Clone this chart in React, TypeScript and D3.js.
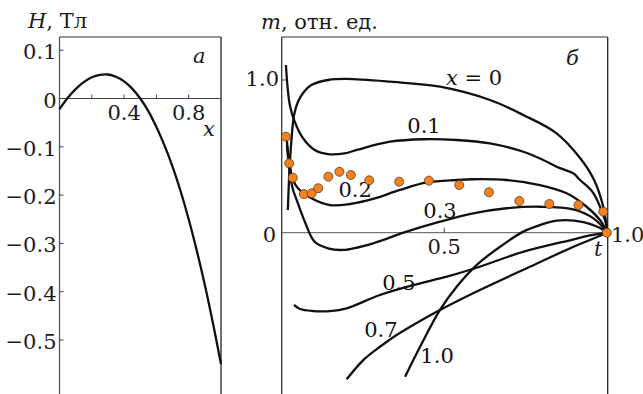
import React from "react";
import * as d3 from "d3";

// panel a: H(x)
const hX = [0, 0.05, 0.1, 0.15, 0.2, 0.25, 0.3, 0.35, 0.4, 0.45, 0.5, 0.55, 0.6, 0.65, 0.7, 0.75, 0.8, 0.85, 0.9, 0.95, 1.0];
const hVal = [-0.022, 0.001, 0.0195, 0.034, 0.044, 0.049, 0.0497, 0.045, 0.0355, 0.0205, 0.0, -0.026, -0.059, -0.097, -0.141, -0.192, -0.25, -0.315, -0.386, -0.465, -0.55];
const hYTicks = [0.1, 0, -0.1, -0.2, -0.3, -0.4, -0.5];
const hXTicks = [0.2, 0.4, 0.6, 0.8];
const hXLabels = [0.4, 0.8];

// panel б: m(t) for several x
const curveNames = ["x = 0", "0.1", "0.2", "0.3", "0.5", "0.7", "1.0"];
const curveT = [
  [0.021, 0.026, 0.032, 0.04, 0.052, 0.07, 0.093, 0.144, 0.201, 0.334, 0.487, 0.64, 0.742, 0.844, 0.916, 0.959, 0.987, 1.0],
  [0.015, 0.027, 0.042, 0.067, 0.103, 0.144, 0.195, 0.232, 0.334, 0.436, 0.538, 0.64, 0.742, 0.803, 0.844, 0.895, 0.916, 0.957, 0.998, 1.0],
  [0.017, 0.027, 0.037, 0.052, 0.092, 0.15, 0.211, 0.282, 0.364, 0.447, 0.538, 0.589, 0.691, 0.793, 0.875, 0.936, 0.977, 1.0],
  [0.018, 0.028, 0.037, 0.046, 0.073, 0.103, 0.144, 0.19, 0.283, 0.375, 0.487, 0.589, 0.691, 0.793, 0.895, 0.957, 1.0],
  [0.04, 0.058, 0.099, 0.15, 0.201, 0.303, 0.405, 0.508, 0.594, 0.741, 0.894, 0.946, 1.0],
  [0.201, 0.252, 0.303, 0.354, 0.405, 0.487, 0.609, 0.741, 0.894, 0.946, 1.0],
  [0.38, 0.426, 0.487, 0.538, 0.599, 0.671, 0.742, 0.793, 0.844, 0.926, 0.977, 1.0],
];
const curveM = [
  [0.149, 0.411, 0.607, 0.771, 0.858, 0.921, 0.967, 1.0, 1.007, 0.989, 0.956, 0.869, 0.771, 0.651, 0.489, 0.345, 0.17, 0],
  [1.098, 0.836, 0.727, 0.62, 0.542, 0.515, 0.52, 0.542, 0.596, 0.612, 0.607, 0.585, 0.53, 0.476, 0.432, 0.389, 0.345, 0.258, 0.039, 0],
  [0.62, 0.443, 0.345, 0.291, 0.227, 0.181, 0.188, 0.221, 0.28, 0.329, 0.345, 0.35, 0.345, 0.312, 0.258, 0.17, 0.083, 0],
  [0.574, 0.378, 0.28, 0.227, 0.072, -0.059, -0.102, -0.113, -0.069, 0, 0.072, 0.127, 0.16, 0.17, 0.153, 0.094, 0],
  [-0.473, -0.5, -0.513, -0.513, -0.495, -0.408, -0.343, -0.288, -0.233, -0.126, -0.045, -0.018, 0],
  [-0.96, -0.834, -0.747, -0.67, -0.604, -0.506, -0.375, -0.244, -0.094, -0.048, 0],
  [-0.943, -0.747, -0.506, -0.354, -0.212, -0.092, 0.007, 0.05, 0.079, 0.07, 0.031, 0],
];
// label anchor (t, m) for each curve
const labelT = [0.591, 0.438, 0.227, 0.487, 0.361, 0.306, 0.478];
const labelM = [0.967, 0.653, 0.234, 0.096, -0.375, -0.683, -0.853];

// experimental points
const dotT = [0.015, 0.025, 0.036, 0.07, 0.094, 0.114, 0.145, 0.179, 0.214, 0.27, 0.362, 0.453, 0.546, 0.637, 0.73, 0.822, 0.911, 0.987, 0.998];
const dotM = [0.629, 0.454, 0.36, 0.253, 0.258, 0.291, 0.367, 0.399, 0.378, 0.343, 0.334, 0.341, 0.312, 0.265, 0.208, 0.188, 0.181, 0.138, 0.0];

const W = 643;
const H = 394;

// every text gets its own font attributes
const T = (props: React.SVGProps<SVGTextElement>) => (
  <text fontFamily="DejaVu Serif" fontSize={21} fill="#1a1a1a" {...props} />
);

export default function App() {
  // panel a scales
  const ax = d3.scaleLinear().domain([0, 1]).range([59.5, 221]);
  const ay = d3.scaleLinear().domain([-0.5, 0.1]).range([340, 50.2]);
  // panel б scales
  const bx = d3.scaleLinear().domain([0, 1]).range([281, 607.5]);
  const by = d3.scaleLinear().domain([0, 1]).range([232.7, 80]);

  const hLine = d3
    .line<number>()
    .x((d, i) => ax(hX[i]))
    .y((d) => ay(d))
    .curve(d3.curveCatmullRom.alpha(0.5));

  const mLine = (k: number) =>
    d3
      .line<number>()
      .x((d, i) => bx(curveT[k][i]))
      .y((d) => by(d))
      .curve(d3.curveCatmullRom.alpha(0.5))(curveM[k]);

  const fmt = (v: number) => (v < 0 ? "\u2212" : "") + Math.abs(v).toFixed(1);

  return (
    <svg width={W} height={H} style={{ position: "absolute", left: 0, top: 0, background: "#fff" }}>
      {/* ---------- panel a ---------- */}
      <T x={28} y={28}>
        <tspan fontStyle="italic">H</tspan>
        <tspan>, Тл</tspan>
      </T>
      <line x1={ax(0)} x2={ax(0)} y1={37} y2={H} stroke="#555" strokeWidth={1.3} />
      <line x1={ax(1)} x2={ax(1)} y1={37} y2={H} stroke="#222" strokeWidth={1.3} />
      <line x1={ax(0)} x2={ax(1)} y1={37} y2={37} stroke="#333" strokeWidth={1.2} />
      <line x1={ax(0)} x2={ax(1)} y1={ay(0)} y2={ay(0)} stroke="#444" strokeWidth={1} />
      {hYTicks.map((v) => (
        <g key={"hy" + v}>
          <line x1={ax(0)} x2={ax(0) + 4} y1={ay(v)} y2={ay(v)} stroke="#444" strokeWidth={1} />
          <T x={ax(0) - 3} y={ay(v) + 9} textAnchor="end">
            {v === 0 ? "0" : fmt(v)}
          </T>
        </g>
      ))}
      {hXTicks.map((v) => (
        <line key={"hx" + v} x1={ax(v)} x2={ax(v)} y1={ay(0)} y2={ay(0) - 4} stroke="#444" strokeWidth={1} />
      ))}
      {hXLabels.map((v) => (
        <T key={"hxl" + v} x={ax(v)} y={ay(0) + 21} textAnchor="middle">
          {v.toFixed(1)}
        </T>
      ))}
      <T x={203} y={136} fontStyle="italic">x</T>
      <T x={193} y={63} fontStyle="italic">а</T>
      <path d={hLine(hVal) || ""} fill="none" stroke="#111" strokeWidth={2.3} />

      {/* ---------- panel б ---------- */}
      <T x={261} y={29}>
        <tspan fontStyle="italic">m</tspan>
        <tspan>, отн. ед.</tspan>
      </T>
      <line x1={281.7} x2={281.7} y1={37} y2={H} stroke="#333" strokeWidth={1.3} />
      <line x1={607.7} x2={607.7} y1={37} y2={H} stroke="#222" strokeWidth={1.3} />
      <line x1={281.7} x2={607.7} y1={37} y2={37} stroke="#333" strokeWidth={1.2} />
      <line x1={281.7} x2={607.7} y1={by(0)} y2={by(0)} stroke="#555" strokeWidth={1} />
      <line x1={281.7} x2={285.7} y1={by(1)} y2={by(1)} stroke="#444" strokeWidth={1} />
      <line x1={bx(0.5)} x2={bx(0.5)} y1={by(0)} y2={by(0) - 5} stroke="#444" strokeWidth={1} />
      <T x={279} y={by(1) + 6} textAnchor="end">1.0</T>
      <T x={276} y={by(0) + 9} textAnchor="end">0</T>
      <T x={bx(0.5)} y={by(0) + 21} textAnchor="middle">0.5</T>
      <T x={611} y={by(0) + 9}>1.0</T>
      <T x={594} y={256} fontStyle="italic">t</T>
      <T x={566} y={65} fontStyle="italic">б</T>

      {curveM.map((c, k) => (
        <path key={"c" + k} d={mLine(k) || ""} fill="none" stroke="#111" strokeWidth={2.3} />
      ))}
      {curveNames.map((name, k) => (
        <T key={"l" + k} x={bx(labelT[k])} y={by(labelM[k])} textAnchor="middle" fill="#111">
          {k === 0 ? (
            <>
              <tspan fontStyle="italic">x</tspan>
              <tspan> = 0</tspan>
            </>
          ) : (
            name
          )}
        </T>
      ))}
      {dotM.map((m, i) => (
        <circle key={"d" + i} cx={bx(dotT[i])} cy={by(m)} r={4.5} fill="#f5821f" stroke="#5a3a1a" strokeWidth={0.8} />
      ))}
    </svg>
  );
}
